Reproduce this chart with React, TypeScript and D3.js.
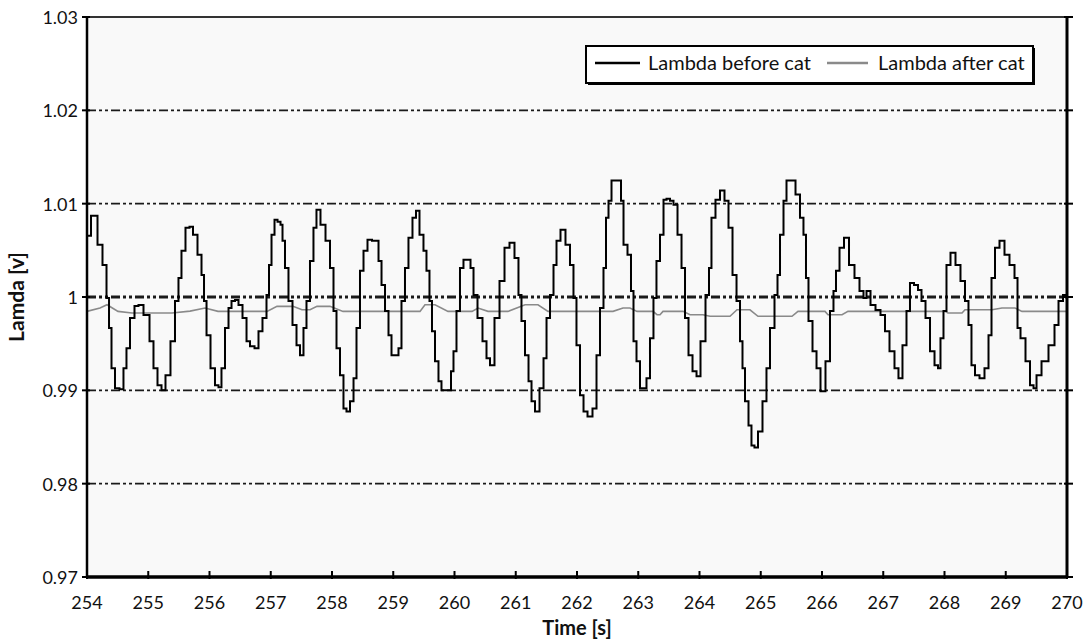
import React from 'react';
import * as d3 from 'd3';

// Lambda before cat (time [s], lambda [v])
const beforeTime = [
  254.0, 254.131, 254.212, 254.294, 254.343, 254.376, 254.424, 254.49, 254.571, 254.62, 254.669, 254.735,
  254.816, 254.865, 254.98, 255.061, 255.11, 255.192, 255.241, 255.322, 255.404, 255.469, 255.518, 255.567,
  255.649, 255.698, 255.763, 255.845, 255.894, 255.927, 255.976, 256.057, 256.122, 256.171, 256.22, 256.286,
  256.335, 256.384, 256.449, 256.498, 256.58, 256.629, 256.694, 256.776, 256.824, 256.906, 256.955, 256.988,
  257.037, 257.086, 257.135, 257.184, 257.2, 257.265, 257.314, 257.396, 257.445, 257.51, 257.559, 257.608,
  257.673, 257.722, 257.771, 257.853, 257.935, 258.0, 258.049, 258.098, 258.163, 258.212, 258.261, 258.327,
  258.376, 258.424, 258.49, 258.539, 258.62, 258.686, 258.735, 258.784, 258.833, 258.898, 258.947, 258.996,
  259.061, 259.11, 259.159, 259.224, 259.273, 259.355, 259.388, 259.469, 259.518, 259.567, 259.616, 259.649,
  259.714, 259.763, 259.812, 259.927, 259.959, 260.008, 260.057, 260.122, 260.171, 260.237, 260.286, 260.335,
  260.416, 260.498, 260.547, 260.612, 260.694, 260.776, 260.857, 260.939, 261.02, 261.069, 261.118, 261.184,
  261.233, 261.282, 261.347, 261.429, 261.478, 261.527, 261.592, 261.641, 261.69, 261.771, 261.853, 261.918,
  261.967, 262.016, 262.082, 262.131, 262.212, 262.294, 262.343, 262.408, 262.457, 262.49, 262.539, 262.588,
  262.702, 262.735, 262.784, 262.865, 262.898, 262.947, 262.996, 263.061, 263.11, 263.159, 263.224, 263.273,
  263.322, 263.388, 263.437, 263.486, 263.551, 263.6, 263.682, 263.731, 263.796, 263.845, 263.927, 263.976,
  264.057, 264.139, 264.171, 264.22, 264.302, 264.367, 264.449, 264.498, 264.58, 264.629, 264.694, 264.71,
  264.776, 264.824, 264.873, 264.922, 264.988, 265.069, 265.118, 265.184, 265.265, 265.282, 265.347, 265.396,
  265.445, 265.527, 265.608, 265.673, 265.722, 265.755, 265.804, 265.886, 265.935, 266.016, 266.098, 266.163,
  266.212, 266.245, 266.327, 266.392, 266.49, 266.571, 266.653, 266.702, 266.751, 266.833, 266.914, 266.996,
  267.061, 267.143, 267.224, 267.273, 267.355, 267.404, 267.469, 267.535, 267.6, 267.649, 267.731, 267.796,
  267.878, 267.91, 267.959, 268.008, 268.057, 268.139, 268.22, 268.302, 268.367, 268.416, 268.465, 268.531,
  268.612, 268.694, 268.743, 268.792, 268.857, 268.939, 269.02, 269.102, 269.184, 269.2, 269.282, 269.363,
  269.429, 269.478, 269.527, 269.641, 269.755, 269.837, 269.886, 269.984,
];
const beforeValue = [
  1.00656, 1.00871, 1.00559, 1.00344, 0.99989, 0.99667, 0.99237, 0.99022, 0.99011, 0.99237, 0.99452, 0.99774,
  0.99903, 0.99914, 0.99806, 0.99527, 0.99237, 0.99054, 0.99, 0.99161, 0.99527, 0.99957, 1.00204, 1.00495,
  1.00742, 1.00753, 1.00667, 1.00452, 1.00237, 0.99957, 0.99591, 0.99237, 0.99054, 0.99032, 0.99237, 0.99667,
  0.99882, 0.99957, 0.99968, 0.99914, 0.99774, 0.99527, 0.99473, 0.99452, 0.99634, 0.99774, 1.00022, 1.00344,
  1.00667, 1.00828, 1.00806, 1.00774, 1.00602, 1.00312, 0.99957, 0.99699, 0.99484, 0.99376, 0.99667, 0.99957,
  1.00387, 1.00742, 1.00935, 1.00774, 1.00602, 1.00312, 0.99849, 0.99452, 0.99161, 0.98806, 0.98774, 0.98882,
  0.99129, 0.99667, 1.0028, 1.00495, 1.00613, 1.00602, 1.00602, 1.00387, 1.00129, 0.99849, 0.99591, 0.99376,
  0.99376, 0.99452, 0.99957, 1.00312, 1.00634, 1.0085, 1.00925, 1.00667, 1.00495, 1.0028, 0.99957, 0.99634,
  0.99312, 0.99097, 0.99, 0.99, 0.99204, 0.9942, 0.99849, 1.00312, 1.00398, 1.00398, 1.00312, 1.00022,
  0.99774, 0.99527, 0.99344, 0.99269, 0.99774, 1.00172, 1.00527, 1.00581, 1.00419, 1.00022, 0.99742, 0.99376,
  0.99097, 0.98882, 0.98774, 0.99022, 0.99344, 0.99774, 1.00022, 1.00344, 1.00602, 1.0072, 1.00559, 1.00344,
  0.99989, 0.99484, 0.98946, 0.98774, 0.9872, 0.98806, 0.99376, 0.99882, 1.00312, 1.0085, 1.01032, 1.01247,
  1.01247, 1.01032, 1.00559, 1.00452, 1.00065, 0.99527, 0.99312, 0.99022, 0.99022, 0.99129, 0.99559, 0.99989,
  1.00387, 1.00667, 1.01043, 1.01054, 1.01032, 1.00989, 1.00667, 1.00312, 0.99774, 0.99376, 0.99204, 0.9915,
  0.99527, 1.00022, 1.00312, 1.0085, 1.01043, 1.0114, 1.01032, 1.00742, 1.00237, 0.99957, 0.99527, 0.99237,
  0.98882, 0.98624, 0.98409, 0.98387, 0.98559, 0.98882, 0.99237, 0.99667, 1.00022, 1.00237, 1.00667, 1.01032,
  1.01247, 1.01247, 1.01097, 1.0085, 1.00667, 1.00204, 0.99742, 0.9942, 0.99237, 0.98989, 0.99312, 0.99849,
  1.00065, 1.0028, 1.00527, 1.00634, 1.00344, 1.00204, 1.00065, 0.99989, 1.00065, 0.99914, 0.9986, 0.99806,
  0.99634, 0.9942, 0.99237, 0.99129, 0.99484, 0.99849, 1.0015, 1.00129, 1.00075, 0.99957, 0.99774, 0.9942,
  0.99269, 0.99237, 0.99559, 0.99849, 1.00344, 1.00473, 1.00344, 1.00172, 0.99957, 0.99699, 0.99269, 0.99161,
  0.99129, 0.99237, 0.99591, 1.00204, 1.00527, 1.00602, 1.00452, 1.00344, 1.00204, 0.99667, 0.99559, 0.99312,
  0.99054, 0.99022, 0.99161, 0.99312, 0.99484, 0.99699, 0.99957, 1.00022,
];

// Lambda after cat
const afterTime = [
  254.0, 254.212, 254.327, 254.506, 254.735, 255.388, 255.682, 255.927, 256.139, 256.743, 256.939, 257.102,
  257.363, 257.51, 257.641, 257.755, 257.967, 258.18, 259.437, 259.518, 259.682, 259.894, 260.286, 260.384,
  260.547, 260.873, 261.151, 261.363, 261.527, 262.588, 262.751, 262.865, 262.98, 263.241, 263.306, 263.355,
  263.404, 263.731, 263.845, 264.057, 264.171, 264.498, 264.612, 264.824, 264.955, 265.51, 265.608, 266.049,
  266.098, 266.327, 266.424, 267.518, 268.008, 268.057, 268.286, 268.335, 268.776, 268.939, 269.151, 269.265,
  269.984,
];
const afterValue = [
  0.99846, 0.99882, 0.99917, 0.99846, 0.99828, 0.99828, 0.99849, 0.99882, 0.99846, 0.99846, 0.99846, 0.999,
  0.999, 0.99863, 0.99863, 0.999, 0.999, 0.99846, 0.99846, 0.99917, 0.99917, 0.99846, 0.99846, 0.99882,
  0.99846, 0.99846, 0.99917, 0.99917, 0.99846, 0.99846, 0.99882, 0.99882, 0.99846, 0.99846, 0.9981, 0.9981,
  0.99846, 0.99846, 0.9981, 0.9981, 0.99793, 0.99793, 0.99863, 0.99863, 0.99793, 0.99793, 0.99846, 0.99846,
  0.9981, 0.9981, 0.99846, 0.99846, 0.99846, 0.99828, 0.99828, 0.99863, 0.99863, 0.99882, 0.99882, 0.99846,
  0.99846,
];

const xTicks = [254, 255, 256, 257, 258, 259, 260, 261, 262, 263, 264, 265, 266, 267, 268, 269, 270];
const yTicks = [0.97, 0.98, 0.99, 1, 1.01, 1.02, 1.03];
const yTickLabels = ['0.97', '0.98', '0.99', '1', '1.01', '1.02', '1.03'];
const gridValues = [0.98, 0.99, 1, 1.01, 1.02];
const seriesNames = ['Lambda before cat', 'Lambda after cat'];
const xTitle = 'Time [s]';
const yTitle = 'Lamda [v]';

const W = 1089;
const H = 640;
const L = 87, R = 1067, T = 17, B = 577;
const FONT = 'Lato, "Open Sans", sans-serif';

export default function App() {
  const x = d3.scaleLinear().domain([254, 270]).range([L, R]);
  const y = d3.scaleLinear().domain([0.97, 1.03]).range([B, T]);

  const before = beforeTime.map((t, i) => [t, beforeValue[i]] as [number, number]);
  const after = afterTime.map((t, i) => [t, afterValue[i]] as [number, number]);
  const stepLine = d3.line<[number, number]>().x((d) => x(d[0])).y((d) => y(d[1])).curve(d3.curveStep);
  const flatLine = d3.line<[number, number]>().x((d) => x(d[0])).y((d) => y(d[1])).curve(d3.curveLinear);

  return (
    <svg width={W} height={H} style={{ position: 'absolute', left: 0, top: 0, background: '#fff' }}>
      <rect x={L} y={T} width={R - L} height={B - T} fill="#f9f9f9" />
      {gridValues.map((v) => (
        <line
          key={v}
          x1={L}
          x2={R}
          y1={y(v)}
          y2={y(v)}
          stroke="#1a1a1a"
          strokeWidth={v === 1 ? 3 : 1.6}
          strokeDasharray="9 3 3 3 3 3"
        />
      ))}
      <path d={flatLine(after) || ''} fill="none" stroke="#8a8a8a" strokeWidth={1.6} />
      <path d={stepLine(before) || ''} fill="none" stroke="#000" strokeWidth={2} />

      {/* frame */}
      <line x1={L} x2={R} y1={T} y2={T} stroke="#333" strokeWidth={2} />
      <line x1={L} x2={L} y1={T} y2={B} stroke="#000" strokeWidth={2.5} />
      <line x1={R} x2={R} y1={T} y2={B} stroke="#000" strokeWidth={3} />
      <line x1={L} x2={R} y1={B} y2={B} stroke="#000" strokeWidth={3.5} />

      {/* y ticks */}
      {yTicks.map((v, i) => (
        <g key={v}>
          <line x1={L - 5} x2={L + 3} y1={y(v)} y2={y(v)} stroke="#000" strokeWidth={2} />
          <line x1={R - 3} x2={R + 6} y1={y(v)} y2={y(v)} stroke="#000" strokeWidth={2} />
          <text
            x={L - 9}
            y={y(v)}
            textAnchor="end"
            dominantBaseline="central"
            fontFamily={FONT}
            fontSize={18}
            fill="#111"
          >
            {yTickLabels[i]}
          </text>
        </g>
      ))}
      {/* x ticks */}
      {xTicks.map((t) => (
        <g key={t}>
          <line x1={x(t)} x2={x(t)} y1={B - 6} y2={B + 2} stroke="#000" strokeWidth={2} />
          <text x={x(t)} y={B + 32} textAnchor="middle" fontFamily={FONT} fontSize={18} fill="#111">
            {t}
          </text>
        </g>
      ))}

      <text x={(L + R) / 2} y={635} textAnchor="middle" fontFamily={FONT} fontSize={20} fontWeight="bold" fill="#111">
        {xTitle}
      </text>
      <text
        transform={`translate(24, ${(T + B) / 2}) rotate(-90)`}
        textAnchor="middle"
        fontFamily={FONT}
        fontSize={21}
        fontWeight="bold"
        fill="#111"
      >
        {yTitle}
      </text>

      {/* legend */}
      <rect x={588} y={48} width={447} height={37} fill="#000" />
      <rect x={586} y={46} width={447} height={37} fill="#fff" stroke="#000" strokeWidth={2} />
      <line x1={595} x2={640} y1={63} y2={63} stroke="#000" strokeWidth={2.5} />
      <text x={648} y={70} fontFamily={FONT} fontSize={20} fill="#111">
        {seriesNames[0]}
      </text>
      <line x1={827} x2={868} y1={63} y2={63} stroke="#8a8a8a" strokeWidth={2.5} />
      <text x={878} y={70} fontFamily={FONT} fontSize={20} fill="#111">
        {seriesNames[1]}
      </text>
    </svg>
  );
}
